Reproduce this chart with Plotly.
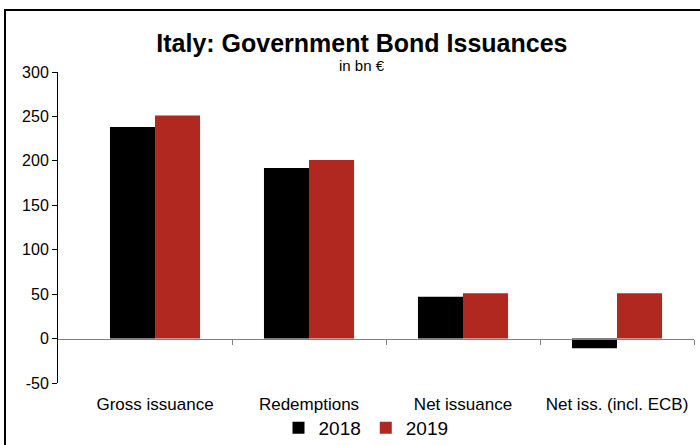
import plotly.graph_objects as go

categories = ["Gross issuance", "Redemptions", "Net issuance", "Net iss. (incl. ECB)"]
values_2018 = [238, 192, 47, -11]
values_2019 = [251, 201, 51, 51]
series_names = ["2018", "2019"]
y_ticks = [-50, 0, 50, 100, 150, 200, 250, 300]

FONT = "Liberation Sans, Arial, sans-serif"
RED = "#B0281F"

W, H = 700, 445
L, R, T, B = 58, 6, 72, 62
pw, ph = W - L - R, H - T - B

def px_x(p):
    return (p - L) / pw

def px_y(p):
    return (H - B - p) / ph

xpos = list(range(len(categories)))
ymin, ymax = y_ticks[0], y_ticks[-1]

fig = go.Figure()
fig.add_trace(go.Bar(x=xpos, y=values_2018, name=series_names[0],
                     marker=dict(color="#000000", line=dict(width=0))))
fig.add_trace(go.Bar(x=xpos, y=values_2019, name=series_names[1],
                     marker=dict(color=RED, line=dict(width=0))))

xr = [-0.63, len(categories) - 0.5]
fig.update_layout(
    width=W, height=H,
    margin=dict(l=L, r=R, t=T, b=B, autoexpand=False),
    paper_bgcolor="white", plot_bgcolor="white",
    barmode="group", bargap=0.415, bargroupgap=0,
    font=dict(family=FONT, color="#000000"),
    title=dict(text="<b>Italy: Government Bond Issuances</b>", x=0.517, xanchor="center",
               y=1 - 43 / H, yanchor="middle", font=dict(size=25, family=FONT, color="#000")),
    xaxis=dict(range=xr, tickvals=xpos, ticktext=categories, ticks="", showline=False,
               showgrid=False, zeroline=False, tickfont=dict(size=17), ticklabelstandoff=9,
               automargin=False),
    xaxis2=dict(range=xr, overlaying="x", anchor="free", position=(0 - ymin) / (ymax - ymin),
                side="bottom", tickvals=[i + 0.5 for i in xpos], showticklabels=False,
                ticks="outside", ticklen=5, tickcolor="#808080", showline=True,
                linecolor="#808080", linewidth=1, showgrid=False, zeroline=False,
                automargin=False),
    yaxis=dict(range=[ymin, ymax], tickvals=y_ticks, ticktext=[str(v) for v in y_ticks],
               ticks="outside", ticklen=5,
               tickcolor="#000", showline=True, linecolor="#000", linewidth=1,
               showgrid=False, zeroline=False, tickfont=dict(size=16), automargin=False),
    legend=dict(orientation="h", x=px_x(366), xanchor="center", y=px_y(428), yanchor="middle",
                font=dict(size=19), itemwidth=30, traceorder="normal",
                bgcolor="rgba(0,0,0,0)"),
    showlegend=True,
)
# invisible trace to activate xaxis2
fig.add_trace(go.Scatter(x=[xr[0]], y=[None], xaxis="x2", showlegend=False, hoverinfo="skip"))

fig.add_annotation(text="in bn €", x=px_x(362), y=px_y(65), xref="paper", yref="paper",
                   showarrow=False, font=dict(size=15), xanchor="center", yanchor="middle")
fig.add_shape(type="rect", xref="paper", yref="paper",
              x0=px_x(5), x1=px_x(710), y0=px_y(10), y1=px_y(455),
              line=dict(color="#000", width=2), layer="above")

fig.write_html("out.html")
